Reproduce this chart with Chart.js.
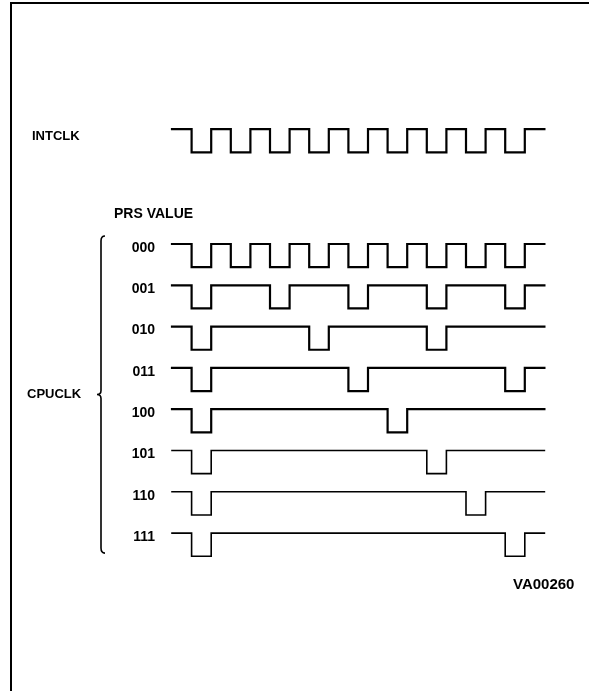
<!DOCTYPE html>
<html>
<head>
<meta charset="utf-8">
<script src="https://cdn.jsdelivr.net/npm/chart.js@4"></script>
<style>
  html, body { margin: 0; padding: 0; background: #fff; }
  #wrap { width: 589px; height: 691px; }
</style>
</head>
<body>
<div id="wrap"><canvas id="timing" width="589" height="691"></canvas></div>
<script>
// ==================================================
// DATA
// ==================================================
// time runs in half-periods of INTCLK, each low pulse lasts one unit
const timeSpan = [0, 19];
const pulseWidth = 1;
const intclkPulses = [1, 3, 5, 7, 9, 11, 13, 15, 17];
const prsValues = ["000", "001", "010", "011", "100", "101", "110", "111"];
const cpuclkPulses = [
    [1, 3, 5, 7, 9, 11, 13, 15, 17],
    [1, 5, 9, 13, 17],
    [1, 7, 13],
    [1, 9, 17],
    [1, 11],
    [1, 13],
    [1, 15],
    [1, 17]
];
// row levels (one unit = one CPUCLK row), INTCLK sits above the PRS rows
const intclkLevel = -2.78;
const prsLevels = [0, 1, 2, 3, 4, 5, 6, 7];
const swing = 0.56;

// ==================================================
// HELPERS
// ==================================================
function waveform(starts, level) {
    const pts = [{ x: timeSpan[0], y: level }];
    starts.forEach(s => {
        pts.push({ x: s, y: level });
        pts.push({ x: s, y: level + swing });
        pts.push({ x: s + pulseWidth, y: level + swing });
        pts.push({ x: s + pulseWidth, y: level });
    });
    pts.push({ x: timeSpan[1], y: level });
    return pts;
}

const datasets = [{
    label: "INTCLK",
    data: waveform(intclkPulses, intclkLevel),
    borderWidth: 2.2
}];
prsValues.forEach((v, i) => {
    datasets.push({
        label: v,
        data: waveform(cpuclkPulses[i], prsLevels[i]),
        borderWidth: i < 5 ? 2.2 : 1.6
    });
});
datasets.forEach(d => {
    d.borderColor = "#000";
    d.pointRadius = 0;
    d.fill = false;
    d.tension = 0;
    d.borderCapStyle = "square";
    d.borderJoinStyle = "miter";
});

// ==================================================
// LABELS, BRACE AND FRAME
// ==================================================
const diagramDecor = {
    id: "diagramDecor",
    afterDatasetsDraw(chart) {
        const ctx = chart.ctx;
        const xs = chart.scales.x;
        const ys = chart.scales.y;
        const x0 = xs.getPixelForValue(timeSpan[0]);

        ctx.save();
        ctx.fillStyle = "#000";
        ctx.strokeStyle = "#000";
        ctx.textBaseline = "middle";

        // frame
        ctx.lineWidth = 2;
        ctx.beginPath();
        ctx.moveTo(11, 691);
        ctx.lineTo(11, 3);
        ctx.lineTo(589, 3);
        ctx.stroke();

        ctx.font = 'bold 13px "Liberation Sans", Arial, sans-serif';
        ctx.textAlign = "left";
        ctx.fillText("INTCLK", 32, ys.getPixelForValue(intclkLevel) + 7);

        ctx.font = 'bold 14px "Liberation Sans", Arial, sans-serif';
        ctx.fillText("PRS VALUE", 114, ys.getPixelForValue(prsLevels[0]) - 30);

        ctx.textAlign = "right";
        prsValues.forEach((v, i) => {
            ctx.fillText(v, x0 - 17, ys.getPixelForValue(prsLevels[i]) + 4);
        });

        // brace around the CPUCLK rows
        const top = ys.getPixelForValue(prsLevels[0]) - 8;
        const bot = ys.getPixelForValue(prsLevels[7]) + 20;
        const mid = (top + bot) / 2;
        const bx = 101;
        ctx.lineWidth = 1.6;
        ctx.beginPath();
        ctx.moveTo(bx + 4, top);
        ctx.quadraticCurveTo(bx, top, bx, top + 5);
        ctx.lineTo(bx, mid - 4);
        ctx.quadraticCurveTo(bx, mid, bx - 4, mid);
        ctx.quadraticCurveTo(bx, mid, bx, mid + 4);
        ctx.lineTo(bx, bot - 5);
        ctx.quadraticCurveTo(bx, bot, bx + 4, bot);
        ctx.stroke();

        ctx.textAlign = "left";
        ctx.font = 'bold 13px "Liberation Sans", Arial, sans-serif';
        ctx.fillText("CPUCLK", 27, mid);

        ctx.font = 'bold 15px "Liberation Sans", Arial, sans-serif';
        ctx.fillText("VA00260", 513, ys.getPixelForValue(prsLevels[7]) + 52);
        ctx.restore();
    }
};

// ==================================================
// CHART
// ==================================================
const pxPerUnitX = 19.6, originX = 172;
const pxPerRow = 41.3, originY = 244;

new Chart(document.getElementById("timing").getContext("2d"), {
    type: "line",
    data: { datasets: datasets },
    options: {
        responsive: false,
        animation: false,
        events: [],
        layout: { padding: 0 },
        plugins: { legend: { display: false }, tooltip: { enabled: false } },
        scales: {
            x: {
                type: "linear",
                display: false,
                min: -originX / pxPerUnitX,
                max: (589 - originX) / pxPerUnitX
            },
            y: {
                type: "linear",
                display: false,
                reverse: true,
                min: -originY / pxPerRow,
                max: (691 - originY) / pxPerRow
            }
        }
    },
    plugins: [diagramDecor]
});
</script>
</body>
</html>
